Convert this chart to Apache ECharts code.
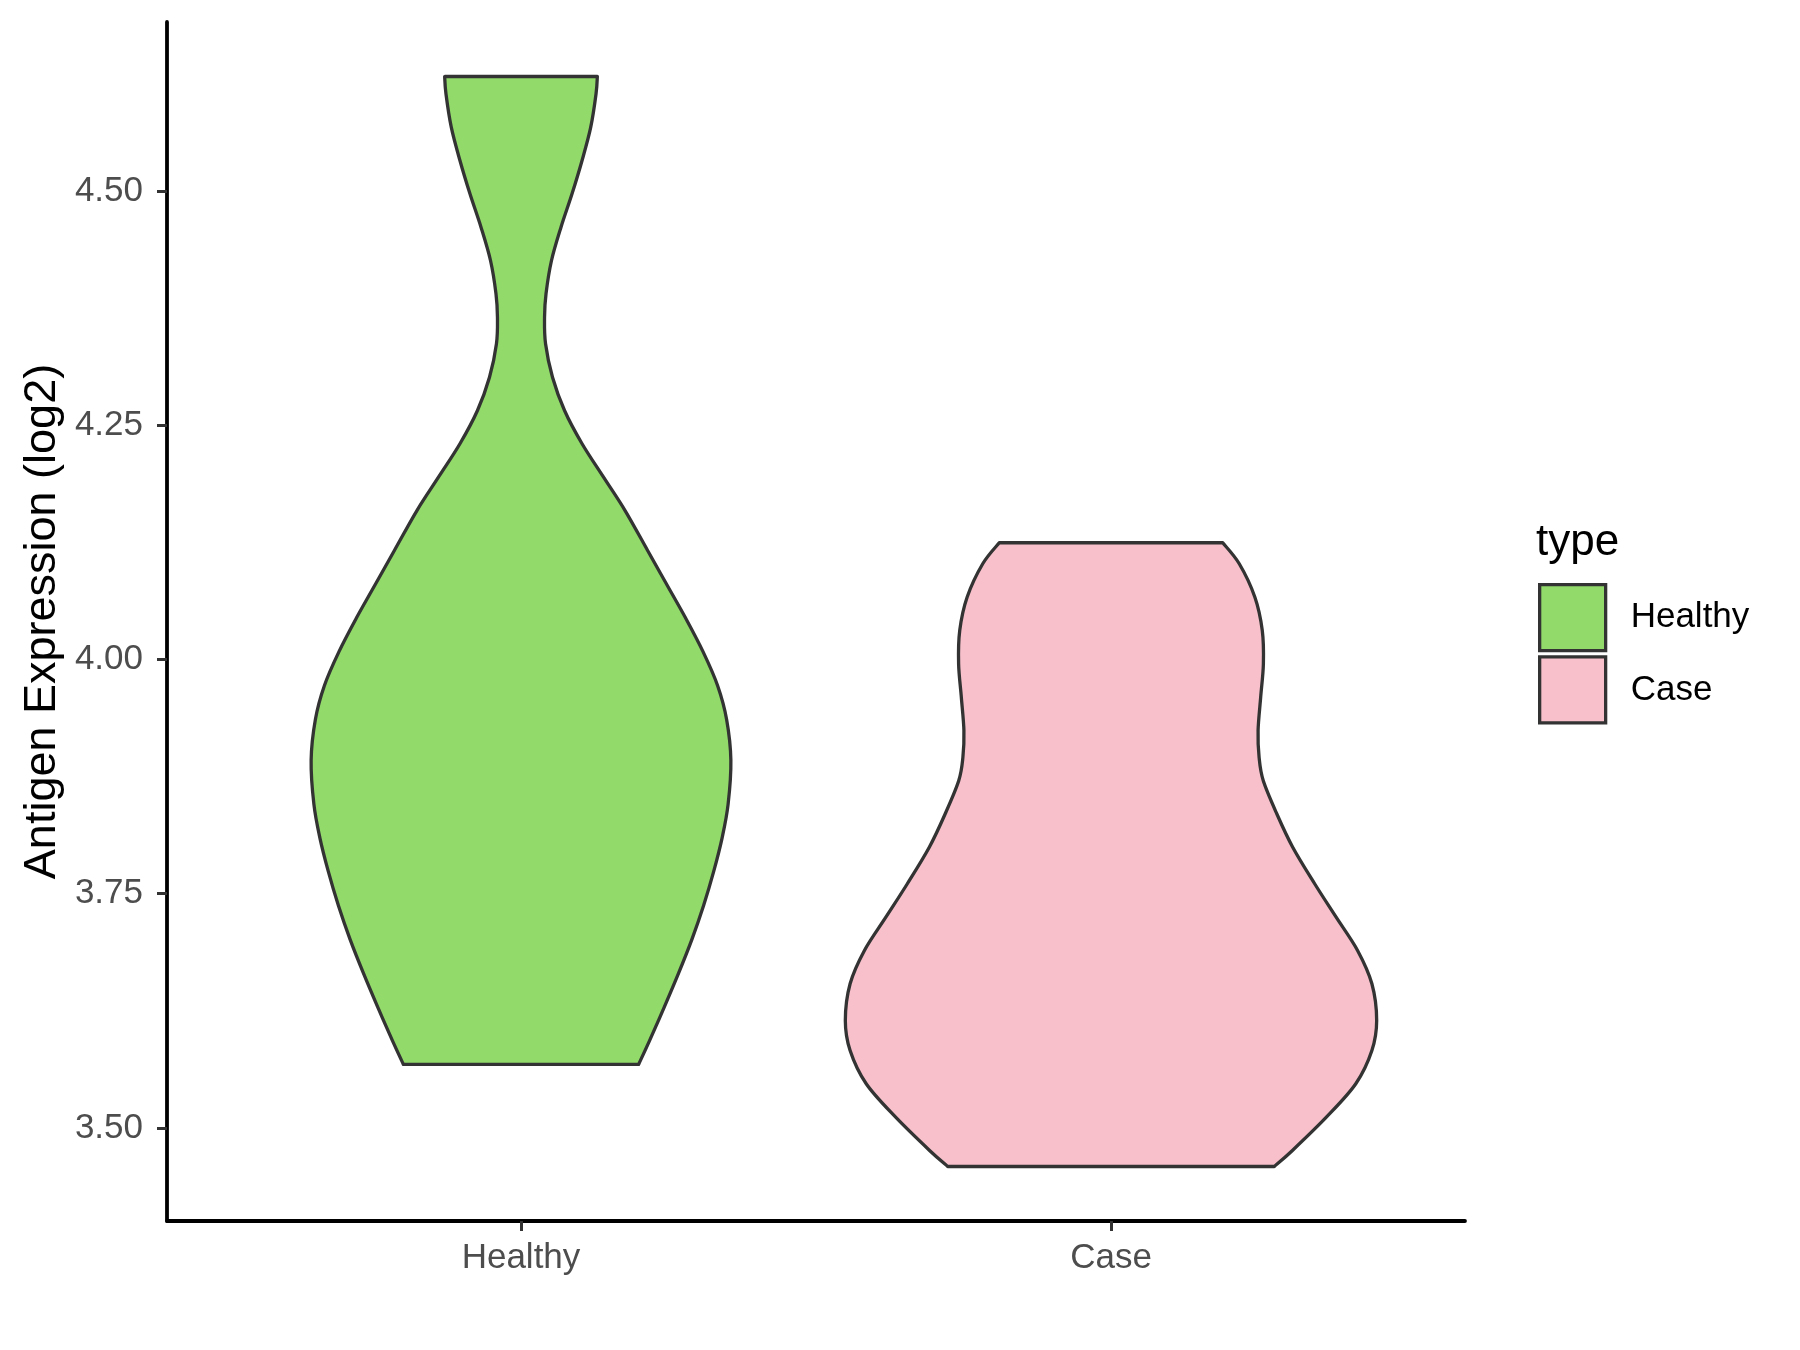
<!DOCTYPE html>
<html>
<head>
<meta charset="utf-8">
<title>Antigen Expression violin</title>
<script src="https://cdn.jsdelivr.net/npm/echarts@6/dist/echarts.min.js"></script>
<style>
  html, body { margin: 0; padding: 0; background: #fff; }
  #chart { width: 1800px; height: 1350px; }
</style>
</head>
<body>
<div id="chart"></div>
<script>
// x categories sit at positions 1 and 2 of the value axis
const categories = ['Healthy', 'Case']
const yTicks = [3.5, 3.75, 4.0, 4.25, 4.5]
const fillColors = ['#92DB6A', '#F7C0CB']

// violin outlines: value (top -> bottom) and half width in category units
const healthyValues = [4.6223, 4.6039, 4.5682, 4.5327, 4.4971, 4.4615, 4.4259, 4.3904, 4.3654, 4.3370,
  4.3013, 4.2658, 4.2303, 4.1946, 4.1590, 4.1164, 4.0803, 4.0442, 4.0081, 3.9720, 3.9360, 3.8926,
  3.8458, 3.8096, 3.7735, 3.7374, 3.7013, 3.6652, 3.6292, 3.5931, 3.5677]
const healthyHalfWidth = [0.1294, 0.1272, 0.1182, 0.1035, 0.0865, 0.0678, 0.0517, 0.0424, 0.0399, 0.0416,
  0.0534, 0.0738, 0.1035, 0.1399, 0.1764, 0.2146, 0.2468, 0.2790, 0.3087, 0.3333, 0.3485, 0.3557,
  0.3511, 0.3409, 0.3265, 0.3095, 0.2897, 0.2671, 0.2430, 0.2179, 0.1993]

const caseValues = [4.1246, 4.1022, 4.0665, 4.0310, 3.9954, 3.9598, 3.9242, 3.8957, 3.8708, 3.8353,
  3.7996, 3.7606, 3.7249, 3.6894, 3.6538, 3.6146, 3.5826, 3.5471, 3.5114, 3.4759, 3.4588]
const caseHalfWidth = [0.1894, 0.2174, 0.2439, 0.2564, 0.2583, 0.2537, 0.2493, 0.2510, 0.2580, 0.2810,
  0.3080, 0.3452, 0.3816, 0.4179, 0.4422, 0.4503, 0.4422, 0.4149, 0.3650, 0.3075, 0.2768]

const profiles = [
  { values: healthyValues, halfWidth: healthyHalfWidth },
  { values: caseValues, halfWidth: caseHalfWidth }
]

const font = '"Liberation Sans", Arial, sans-serif'
const outline = '#333333'

const chart = echarts.init(document.getElementById('chart'))

// smooth curve through pixel points (catmull-rom -> cubic bezier commands)
const curveThrough = pts => {
  let d = ''
  const last = pts.length - 1
  for (let i = 0; i < last; i++) {
    const p0 = pts[Math.max(i - 1, 0)]
    const p1 = pts[i]
    const p2 = pts[i + 1]
    const p3 = pts[Math.min(i + 2, last)]
    const c1x = p1[0] + (p2[0] - p0[0]) / 6
    const c1y = p1[1] + (p2[1] - p0[1]) / 6
    const c2x = p2[0] - (p3[0] - p1[0]) / 6
    const c2y = p2[1] - (p3[1] - p1[1]) / 6
    d += ' C' + c1x + ',' + c1y + ' ' + c2x + ',' + c2y + ' ' + p2[0] + ',' + p2[1]
  }
  return d
}

// one violin as a closed path: right side down, flat bottom, left side up, flat top
const renderViolin = (params, api) => {
  const idx = params.seriesIndex
  const p = profiles[idx]
  const center = api.value(0)
  const right = p.values.map((v, i) => api.coord([center + p.halfWidth[i], v]))
  const left = p.values.map((v, i) => api.coord([center - p.halfWidth[i], v])).reverse()
  const pathData = 'M' + right[0][0] + ',' + right[0][1] + curveThrough(right) +
    ' L' + left[0][0] + ',' + left[0][1] + curveThrough(left) + ' Z'
  return {
    type: 'path',
    shape: { pathData: pathData },
    style: { fill: fillColors[idx], stroke: outline, lineWidth: 3.3, lineJoin: 'round' }
  }
}

const option = {
  animation: false,
  backgroundColor: '#ffffff',
  title: {
    text: 'type',
    left: 1536,
    top: 521,
    padding: 0,
    textStyle: { fontSize: 44, fontWeight: 'normal', color: '#000', fontFamily: font }
  },
  legend: {
    orient: 'vertical',
    left: 1538,
    top: 583,
    padding: 0,
    itemWidth: 66,
    itemHeight: 66,
    itemGap: 3,
    icon: 'rect',
    data: categories,
    itemStyle: { borderColor: outline, borderWidth: 3.3 },
    textStyle: { fontSize: 35, color: '#000', fontFamily: font, padding: [0, 0, 0, 20] }
  },
  grid: { left: 167, right: 335, top: 22, bottom: 129, containLabel: false, outerBoundsMode: 'none' },
  xAxis: {
    type: 'value',
    min: 0.4,
    max: 2.6,
    splitLine: { show: false },
    axisLine: { show: true, onZero: false, lineStyle: { color: '#000', width: 3.8 } },
    axisTick: { show: true, customValues: [1, 2], length: 10, lineStyle: { color: outline, width: 3 } },
    axisLabel: {
      customValues: [1, 2],
      formatter: v => categories[Math.round(v) - 1],
      margin: 20,
      color: '#4D4D4D',
      fontSize: 35,
      fontFamily: font
    }
  },
  yAxis: {
    type: 'value',
    min: 3.4006,
    max: 4.6805,
    name: 'Antigen Expression (log2)',
    nameLocation: 'middle',
    nameRotate: 90,
    nameGap: 102,
    nameMoveOverlap: false,
    nameTextStyle: { fontSize: 45, color: '#000', fontFamily: font },
    splitLine: { show: false },
    axisLine: { show: true, onZero: false, lineStyle: { color: '#000', width: 3.8 } },
    axisTick: { show: true, customValues: yTicks, length: 10, lineStyle: { color: outline, width: 3 } },
    axisLabel: {
      customValues: yTicks,
      formatter: v => v.toFixed(2),
      margin: 24,
      color: '#4D4D4D',
      fontSize: 35,
      fontFamily: font
    }
  },
  series: profiles.map((p, i) => ({
    type: 'custom',
    name: categories[i],
    renderItem: renderViolin,
    itemStyle: { color: fillColors[i], borderColor: outline, borderWidth: 3.3 },
    encode: { x: 0, y: 1 },
    data: [[i + 1, p.values[0]]],
    clip: false
  }))
}

chart.setOption(option)

window.addEventListener('resize', () => {
  chart.resize()
})
</script>
</body>
</html>
